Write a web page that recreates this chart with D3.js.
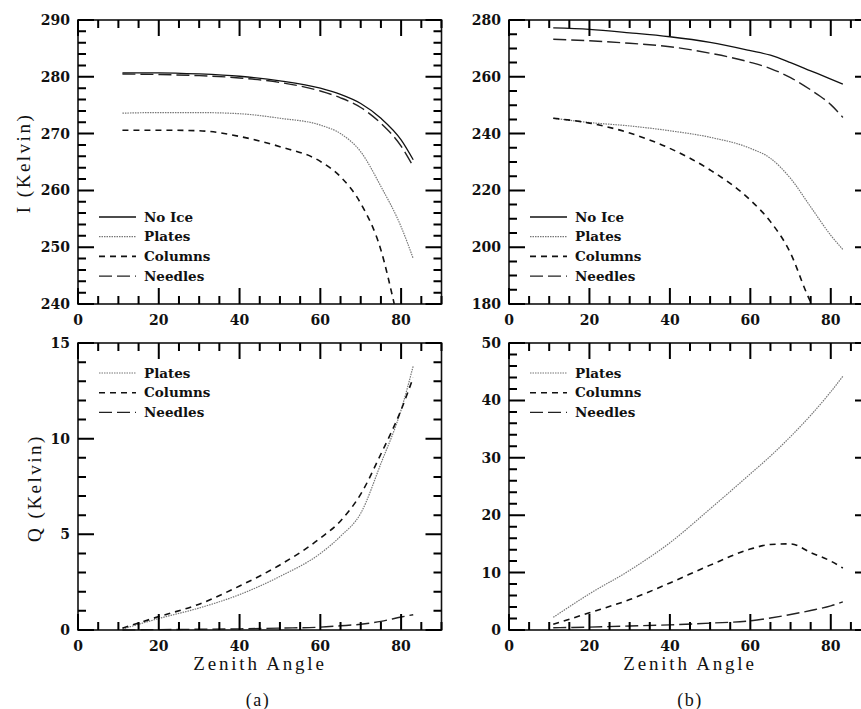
<!DOCTYPE html>
<html>
<head>
<meta charset="utf-8">
<script src="https://cdn.jsdelivr.net/npm/d3@7"></script>
<style>
body { margin: 0; background: #fff; }
</style>
</head>
<body>
<svg id="chart" width="861" height="709"></svg>
<script>
const angles = [11, 20, 30, 40, 50, 60, 65, 70, 75, 80, 83];
// the Columns curves run out of the frame, so they stop where they cross it
const anglesColA = [11, 20, 30, 40, 50, 60, 65, 70, 75, 78.3];
const anglesColB = [11, 20, 30, 40, 50, 60, 65, 70, 74, 75.2];

// I (Kelvin), case (a)
const iNoIceA   = [280.7, 280.7, 280.5, 280.1, 279.3, 278.0, 276.9, 275.3, 272.7, 268.9, 265.4];
const iPlatesA  = [273.6, 273.7, 273.7, 273.5, 272.7, 271.5, 270.0, 266.8, 260.7, 253.6, 248.0];
const iColumnsA = [270.6, 270.6, 270.5, 269.5, 267.7, 265.1, 262.4, 257.7, 249.5, 240.0];
const iNeedlesA = [280.5, 280.4, 280.2, 279.8, 279.0, 277.5, 276.3, 274.6, 271.8, 267.8, 264.2];

// I (Kelvin), case (b)
const iNoIceB   = [277.2, 276.7, 275.5, 274.1, 272.1, 269.2, 267.6, 265.0, 262.1, 259.2, 257.4];
const iPlatesB  = [245.4, 243.9, 242.7, 241.0, 238.7, 234.8, 231.3, 224.2, 214.2, 204.2, 199.2];
const iColumnsB = [245.4, 243.7, 240.2, 234.8, 227.2, 216.6, 209.0, 197.9, 183.8, 180.0];
const iNeedlesB = [273.2, 272.7, 271.8, 270.6, 268.3, 265.1, 262.9, 259.7, 255.4, 250.2, 245.7];

// Q (Kelvin), case (a)
const qPlatesA  = [0.05, 0.6, 1.15, 1.85, 2.8, 4.0, 4.9, 6.1, 8.7, 11.5, 13.8];
const qColumnsA = [0.1, 0.7, 1.35, 2.3, 3.4, 4.8, 5.7, 7.1, 9.2, 11.5, 13.2];
const qNeedlesA = [0.0, 0.02, 0.04, 0.06, 0.1, 0.15, 0.22, 0.3, 0.45, 0.68, 0.8];

// Q (Kelvin), case (b)
const qPlatesB  = [2.2, 6.3, 10.4, 15.2, 21.1, 27.2, 30.3, 33.7, 37.4, 41.5, 44.2];
const qColumnsB = [1.0, 3.0, 5.3, 8.2, 11.3, 14.1, 14.9, 15.0, 13.5, 12.0, 10.8];
const qNeedlesB = [0.4, 0.5, 0.7, 0.9, 1.2, 1.6, 2.1, 2.7, 3.4, 4.2, 4.9];

const xTickLabels = [0, 20, 40, 60, 80];
const iTicksA = [240, 250, 260, 270, 280, 290];
const iTicksB = [180, 200, 220, 240, 260, 280];
const qTicksA = [0, 5, 10, 15];
const qTicksB = [0, 10, 20, 30, 40, 50];

const lineStyle = {
    'No Ice':  { stroke: '#111', width: 1.3, dash: null },
    'Plates':  { stroke: '#777', width: 1.2, dash: '1.5,1' },
    'Columns': { stroke: '#111', width: 1.6, dash: '6,5' },
    'Needles': { stroke: '#222', width: 1.4, dash: '13,5' }
};

const svg = d3.select('#chart');
svg.append('rect').attr('width', 861).attr('height', 709).attr('fill', '#fff');

const tickFont = 'DejaVu Serif';
const tickPaths = [];

function panel(box, yDomain, yMajor, yMinorStep, series, legendTop) {
    const x = d3.scaleLinear().domain([0, 90]).range([box.x0, box.x1]);
    const y = d3.scaleLinear().domain(yDomain).range([box.y1, box.y0]);
    const g = svg.append('g');

    // tick labels
    g.append('g').selectAll('text').data(yMajor).enter().append('text')
        .attr('x', box.x0 - 8).attr('y', d => y(d)).attr('dy', '0.35em')
        .attr('text-anchor', 'end')
        .attr('font-family', tickFont).attr('font-size', 14).attr('font-weight', 'bold')
        .attr('fill', '#111')
        .text(d => d);
    g.append('g').selectAll('text').data(xTickLabels).enter().append('text')
        .attr('x', d => x(d)).attr('y', box.y1 + 16).attr('dy', '0.35em')
        .attr('text-anchor', 'middle')
        .attr('font-family', tickFont).attr('font-size', 14).attr('font-weight', 'bold')
        .attr('fill', '#111')
        .text(d => d);

    const line = xs => d3.line()
        .x((d, i) => x(xs[i]))
        .y(d => y(d))
        .curve(d3.curveMonotoneX);

    g.append('g')
        .selectAll('path')
        .data(series)
        .enter()
        .append('path')
        .attr('d', d => line(d.angles || angles)(d.values))
        .attr('fill', 'none')
        .attr('stroke', d => lineStyle[d.name].stroke)
        .attr('stroke-width', d => lineStyle[d.name].width)
        .attr('stroke-dasharray', d => lineStyle[d.name].dash);

    // legend
    const leg = g.append('g')
        .selectAll('g')
        .data(series)
        .enter()
        .append('g')
        .attr('transform', (d, i) => `translate(${box.x0 + 21},${legendTop + i * 19.7})`);
    leg.append('line')
        .attr('x1', 0).attr('x2', 37)
        .attr('stroke', d => lineStyle[d.name].stroke)
        .attr('stroke-width', d => lineStyle[d.name].width)
        .attr('stroke-dasharray', d => lineStyle[d.name].dash);
    leg.append('text')
        .attr('x', 45).attr('dy', '0.35em')
        .attr('font-family', tickFont).attr('font-size', 13.5).attr('font-weight', 'bold')
        .attr('fill', '#111')
        .text(d => d.name);

    g.append('rect')
        .attr('x', box.x0).attr('y', box.y0)
        .attr('width', box.x1 - box.x0).attr('height', box.y1 - box.y0)
        .attr('fill', 'none').attr('stroke', '#111').attr('stroke-width', 1.6);

    // inward ticks on all four sides
    const yMinor = d3.range(yDomain[0], yDomain[1] + 0.001, yMinorStep);
    const xMinor = d3.range(0, 90.001, 5);
    const yLen = v => (yMajor.includes(v) ? 16 : 8);
    const xLen = v => (xTickLabels.includes(v) ? 16 : 8);
    let tp = '';
    yMinor.forEach(v => {
        tp += `M${box.x0},${y(v).toFixed(2)}h${yLen(v)}`;
        tp += `M${box.x1},${y(v).toFixed(2)}h${-yLen(v)}`;
    });
    xMinor.forEach(v => {
        tp += `M${x(v).toFixed(2)},${box.y1}v${-xLen(v)}`;
        tp += `M${x(v).toFixed(2)},${box.y0}v${xLen(v)}`;
    });
    tickPaths.push(tp);
}

const boxTopA = { x0: 78, x1: 441.5, y0: 20, y1: 304 };
const boxTopB = { x0: 509, x1: 871, y0: 20, y1: 304 };
const boxBotA = { x0: 78, x1: 441.5, y0: 343, y1: 630 };
const boxBotB = { x0: 509, x1: 871, y0: 343, y1: 630 };

panel(boxTopA, [240, 290], iTicksA, 2, [
    { name: 'No Ice', values: iNoIceA },
    { name: 'Plates', values: iPlatesA },
    { name: 'Columns', values: iColumnsA, angles: anglesColA },
    { name: 'Needles', values: iNeedlesA }
], 217);

panel(boxTopB, [180, 280], iTicksB, 5, [
    { name: 'No Ice', values: iNoIceB },
    { name: 'Plates', values: iPlatesB },
    { name: 'Columns', values: iColumnsB, angles: anglesColB },
    { name: 'Needles', values: iNeedlesB }
], 217);

panel(boxBotA, [0, 15], qTicksA, 1, [
    { name: 'Plates', values: qPlatesA },
    { name: 'Columns', values: qColumnsA },
    { name: 'Needles', values: qNeedlesA }
], 373);

panel(boxBotB, [0, 50], qTicksB, 2, [
    { name: 'Plates', values: qPlatesB },
    { name: 'Columns', values: qColumnsB },
    { name: 'Needles', values: qNeedlesB }
], 373);

// titles
const titleFont = 'Liberation Serif';
svg.append('text')
    .attr('transform', 'translate(30,163) rotate(-90)')
    .attr('text-anchor', 'middle')
    .attr('font-family', titleFont).attr('font-size', 19).attr('letter-spacing', 2.5)
    .attr('fill', '#111')
    .text('I (Kelvin)');
svg.append('text')
    .attr('transform', 'translate(41,488) rotate(-90)')
    .attr('text-anchor', 'middle')
    .attr('font-family', titleFont).attr('font-size', 19).attr('letter-spacing', 2.5)
    .attr('fill', '#111')
    .text('Q (Kelvin)');

[[260, 'Zenith Angle'], [690, 'Zenith Angle']].forEach(([cx, t]) => {
    svg.append('text')
        .attr('x', cx).attr('y', 670)
        .attr('text-anchor', 'middle')
        .attr('font-family', titleFont).attr('font-size', 19).attr('letter-spacing', 2.8)
        .attr('fill', '#111')
        .text(t);
});
[[258, '(a)'], [690, '(b)']].forEach(([cx, t]) => {
    svg.append('text')
        .attr('x', cx).attr('y', 706)
        .attr('text-anchor', 'middle')
        .attr('font-family', titleFont).attr('font-size', 18).attr('letter-spacing', 1.5)
        .attr('fill', '#111')
        .text(t);
});

// tick marks go on top of everything
svg.append('g')
    .selectAll('path')
    .data(tickPaths)
    .enter()
    .append('path')
    .attr('d', d => d)
    .attr('fill', 'none')
    .attr('stroke', '#000')
    .attr('stroke-width', 2);
</script>
</body>
</html>
